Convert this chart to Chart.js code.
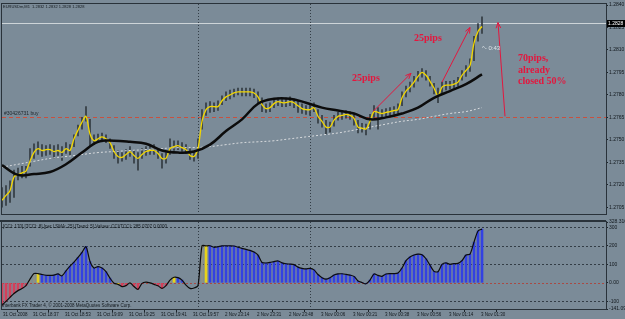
<!DOCTYPE html>
<html>
<head>
<meta charset="utf-8">
<script src="https://cdn.jsdelivr.net/npm/chart.js@4.4.0/dist/chart.umd.min.js"></script>
<style>
  html, body { margin: 0; padding: 0; background: #7b8b98; }
  #wrap { position: relative; width: 625px; height: 319px; overflow: hidden; }
  #priceBox { position: absolute; left: 0; top: 0; width: 625px; height: 218px; }
  #cciBox { position: absolute; left: 0; top: 218px; width: 625px; height: 101px; }
</style>
</head>
<body>
<div id="wrap">
  <div id="priceBox"><canvas id="priceChart" width="625" height="218"></canvas></div>
  <div id="cciBox"><canvas id="cciChart" width="625" height="101"></canvas></div>
</div>
<script>
// EURUSDm M1, 31 Oct 2008 -> 3 Nov 2008
// one sample every 2 bars (bar 0, 2, 4 ... 240)
const SAMPLE = 2;
const closeSmooth = [
  1.27096, 1.27129, 1.27161, 1.27253, 1.27266, 1.27279, 1.27292, 1.27357, 1.27416, 1.27442,
  1.27429, 1.27435, 1.27435, 1.27422, 1.27429, 1.27416, 1.27442, 1.27429, 1.27507, 1.27565,
  1.27618, 1.27657, 1.27539, 1.27494, 1.27507, 1.27520, 1.27507, 1.27481, 1.27422, 1.27389,
  1.27383, 1.27402, 1.27422, 1.27396, 1.27376, 1.27402, 1.27422, 1.27429, 1.27429, 1.27409,
  1.27376, 1.27376, 1.27442, 1.27455, 1.27461, 1.27448, 1.27435, 1.27396, 1.27389, 1.27442,
  1.27624, 1.27702, 1.27722, 1.27722, 1.27722, 1.27761, 1.27787, 1.27800, 1.27813, 1.27820,
  1.27820, 1.27820, 1.27820, 1.27813, 1.27787, 1.27735, 1.27709, 1.27715, 1.27742, 1.27755,
  1.27748, 1.27748, 1.27755, 1.27748, 1.27728, 1.27709, 1.27702, 1.27702, 1.27715, 1.27657,
  1.27624, 1.27585, 1.27585, 1.27631, 1.27657, 1.27663, 1.27670, 1.27663, 1.27644, 1.27585,
  1.27579, 1.27572, 1.27624, 1.27689, 1.27683, 1.27676, 1.27683, 1.27689, 1.27696, 1.27702,
  1.27781, 1.27826, 1.27852, 1.27885, 1.27924, 1.27950, 1.27931, 1.27891, 1.27846, 1.27794,
  1.27852, 1.27865, 1.27865, 1.27872, 1.27885, 1.27931, 1.27963, 1.27996, 1.28146, 1.28224,
  1.28257
];
const barHigh = [
  1.27181, 1.27194, 1.27226, 1.27298, 1.27311, 1.27324, 1.27324, 1.27442, 1.27474, 1.27487,
  1.27468, 1.27461, 1.27468, 1.27461, 1.27468, 1.27455, 1.27481, 1.27468, 1.27533, 1.27598,
  1.27650, 1.27722, 1.27637, 1.27533, 1.27539, 1.27546, 1.27533, 1.27507, 1.27461, 1.27429,
  1.27415, 1.27435, 1.27455, 1.27429, 1.27415, 1.27442, 1.27455, 1.27461, 1.27468, 1.27442,
  1.27409, 1.27415, 1.27507, 1.27494, 1.27494, 1.27481, 1.27468, 1.27442, 1.27422, 1.27507,
  1.27702, 1.27748, 1.27755, 1.27748, 1.27761, 1.27794, 1.27820, 1.27833, 1.27839, 1.27846,
  1.27846, 1.27846, 1.27846, 1.27839, 1.27820, 1.27781, 1.27741, 1.27748, 1.27774, 1.27781,
  1.27774, 1.27781, 1.27787, 1.27774, 1.27761, 1.27741, 1.27728, 1.27735, 1.27748, 1.27702,
  1.27663, 1.27631, 1.27618, 1.27663, 1.27683, 1.27689, 1.27696, 1.27689, 1.27670, 1.27631,
  1.27611, 1.27605, 1.27670, 1.27728, 1.27715, 1.27702, 1.27709, 1.27715, 1.27722, 1.27741,
  1.27820, 1.27859, 1.27885, 1.27924, 1.27957, 1.27976, 1.27963, 1.27924, 1.27878, 1.27846,
  1.27885, 1.27891, 1.27891, 1.27898, 1.27918, 1.27963, 1.27996, 1.28041, 1.28191, 1.28276,
  1.28322
];
const barLow = [
  1.27050, 1.27063, 1.27083, 1.27116, 1.27233, 1.27246, 1.27246, 1.27324, 1.27376, 1.27402,
  1.27389, 1.27396, 1.27402, 1.27376, 1.27396, 1.27363, 1.27409, 1.27396, 1.27455, 1.27526,
  1.27572, 1.27624, 1.27461, 1.27468, 1.27481, 1.27487, 1.27481, 1.27442, 1.27376, 1.27344,
  1.27357, 1.27370, 1.27389, 1.27344, 1.27298, 1.27376, 1.27396, 1.27402, 1.27402, 1.27376,
  1.27311, 1.27344, 1.27402, 1.27429, 1.27435, 1.27422, 1.27409, 1.27370, 1.27357, 1.27376,
  1.27572, 1.27663, 1.27683, 1.27689, 1.27696, 1.27735, 1.27761, 1.27774, 1.27787, 1.27800,
  1.27794, 1.27794, 1.27794, 1.27781, 1.27748, 1.27689, 1.27683, 1.27689, 1.27715, 1.27728,
  1.27722, 1.27722, 1.27728, 1.27715, 1.27683, 1.27676, 1.27670, 1.27663, 1.27689, 1.27611,
  1.27585, 1.27539, 1.27552, 1.27592, 1.27631, 1.27637, 1.27644, 1.27637, 1.27598, 1.27546,
  1.27552, 1.27533, 1.27572, 1.27650, 1.27572, 1.27644, 1.27657, 1.27663, 1.27670, 1.27676,
  1.27728, 1.27787, 1.27820, 1.27852, 1.27891, 1.27918, 1.27898, 1.27859, 1.27807, 1.27748,
  1.27813, 1.27833, 1.27839, 1.27846, 1.27859, 1.27898, 1.27924, 1.27957, 1.28028, 1.28159,
  1.28211
];

// moving averages, one value every 8 bars
const MA_STEP = 8;
const maFast = [
  1.27331, 1.27266, 1.27272, 1.27285, 1.27337, 1.27415, 1.27487, 1.27494, 1.27487, 1.27474,
  1.27429, 1.27415, 1.27422, 1.27468, 1.27559, 1.27637, 1.27741, 1.27774, 1.27774, 1.27748,
  1.27715, 1.27696, 1.27676, 1.27637, 1.27650, 1.27676, 1.27715, 1.27781, 1.27826, 1.27872,
  1.27937
];
const maSlow = [
  1.27318, 1.27337, 1.27357, 1.27376, 1.27389, 1.27402, 1.27415, 1.27422, 1.27429, 1.27435,
  1.27442, 1.27448, 1.27448, 1.27455, 1.27468, 1.27481, 1.27487, 1.27494, 1.27507, 1.27520,
  1.27533, 1.27546, 1.27565, 1.27585, 1.27605, 1.27624, 1.27637, 1.27657, 1.27676, 1.27689,
  1.27715
];

// TCCI sub window, same samples as the price
const cciValues = [
  -121, -100, -78, -57, -42, -31, -15, 20, 50, 50,
  45, 41, 40, 42, 48, 38, 65, 90, 112, 137,
  165, 195, 115, 80, 88, 80, 60, 25, -2, -8,
  -20, -15, 0, -20, -35, -3, 4, 0, -8, -16,
  -30, -15, 15, 30, 28, 15, -12, -30, -28, -15,
  200, 200, 200, 192, 195, 200, 200, 200, 199, 192,
  186, 181, 175, 166, 150, 110, 107, 110, 115, 118,
  108, 103, 101, 98, 85, 78, 75, 78, 70, 45,
  28, 20, 28, 42, 48, 49, 46, 42, 35, 10,
  2, -5, 15, 48, 40, 35, 48, 50, 50, 53,
  80, 120, 140, 150, 155, 152, 130, 95, 62, 60,
  100, 108, 100, 104, 105, 120, 150, 155, 220, 280,
  290
];
// r = down, b = up, g = flat, y = turn, n = none
const cciTrend =
  'rrrrrrrggy' + 'bbbbbbbbbb' + 'bbbbbbbbry' + 'rrgrrrggrr' + 'rrgybbnnnn' +
  'gybbbbbbbb' + 'bbbbbbbbbb' + 'bbbbbbbbbb' + 'bbbbbbbbbb' + 'bbbbbbbbbb' +
  'bbbbbbbbbb' + 'bbbbbbbbbb' + 'b';

const timeTickBars = [0, 15, 31, 47, 63, 79, 95, 111, 127, 143, 159, 175, 191, 207, 223, 239];
const timeLabels = [
  '31 Oct 2008', '31 Oct 18:37', '31 Oct 18:53', '31 Oct 19:09', '31 Oct 19:25', '31 Oct 19:41',
  '31 Oct 19:57', '2 Nov 23:14', '2 Nov 23:31', '2 Nov 23:48', '3 Nov 00:06', '3 Nov 00:21',
  '3 Nov 00:38', '3 Nov 00:56', '3 Nov 01:14', '3 Nov 01:30'
];
const priceTicks = [1.2840, 1.2825, 1.2810, 1.2795, 1.2780, 1.2765, 1.2750, 1.2735, 1.2720, 1.2705];
const cciTicks = [328.3164, 300, 200, 100, 0, -100, -141.0929];
const cciTickLabels = ['328.3164', '300', '200', '100', '0.00', '-100', '-141.0929'];
const cciLevels = [300, 200, 100, -100];
const dayBreaks = [98, 154];
const bidPrice = 1.2828;
const orderPrice = 1.2765;
const orderLabel = '#30426731 buy';
const chartTitle = 'EURUSDm,M1  1.2832 1.2832 1.2828 1.2828';
const cciTitle = '[CCI: 170] [TCCI: 8] [per LSMA: 25] [Trend: 5] Values: CCI/TCCI: 285.0707 0.0000';
const copyright = 'Interbank FX Trader 4, \u00a9 2001-2008 MetaQuotes Software Corp.';

// hand drawn notes: [fromBar, fromPrice, toBar, toPrice]
const noteArrows = [
  [185.5, 1.27689, 204.5, 1.27944],
  [220, 1.27885, 234, 1.28250],
  [251.5, 1.27657, 248, 1.28283]
];
const noteTexts = [
  ['25pips', 175, 1.27911],
  ['25pips', 206, 1.28178],
  ['70pips,', 258, 1.28041],
  ['already', 258, 1.27963],
  ['closed 50%', 258, 1.27891]
];
const timerText = ['^- 0:43', 240, 1.28113];

const trendColors = { r: '#d4405a', b: '#3341e2', g: '#8e9286', y: '#e8d21a', n: 'rgba(0,0,0,0)' };
const frameColor = '#29323a';
const smallFont = '"Liberation Sans", Arial, sans-serif';

function hLine(ctx, a, py) {
  py = Math.round(py) + 0.5;
  ctx.beginPath();
  ctx.moveTo(a.left, py);
  ctx.lineTo(a.right, py);
  ctx.stroke();
}

function vLines(ctx, a, xs) {
  ctx.strokeStyle = '#333d46';
  ctx.setLineDash([1, 2]);
  dayBreaks.forEach(b => {
    const px = Math.round(xs.getPixelForValue(b)) + 0.5;
    ctx.beginPath();
    ctx.moveTo(px, a.top);
    ctx.lineTo(px, a.bottom);
    ctx.stroke();
  });
  ctx.setLineDash([]);
}

const priceDecor = {
  id: 'priceDecor',
  beforeDatasetsDraw(chart) {
    const { ctx, chartArea: a, scales: { x, y } } = chart;
    ctx.save();
    ctx.lineWidth = 1;
    vLines(ctx, a, x);
    ctx.strokeStyle = '#cdd4d8';
    hLine(ctx, a, y.getPixelForValue(bidPrice));
    ctx.strokeStyle = '#c9503e';
    ctx.setLineDash([4, 3]);
    hLine(ctx, a, y.getPixelForValue(orderPrice));
    ctx.setLineDash([]);
    ctx.fillStyle = '#1e262c';
    ctx.font = '5px ' + smallFont;
    ctx.textBaseline = 'bottom';
    ctx.fillText(orderLabel, a.left + 2, y.getPixelForValue(orderPrice) - 1);
    ctx.restore();
  },
  afterDatasetsDraw(chart) {
    const { ctx, scales: { x, y } } = chart;
    ctx.save();
    ctx.strokeStyle = '#e3173e';
    ctx.lineWidth = 1;
    noteArrows.forEach(([b1, p1, b2, p2]) => {
      const x1 = x.getPixelForValue(b1), y1 = y.getPixelForValue(p1);
      const x2 = x.getPixelForValue(b2), y2 = y.getPixelForValue(p2);
      const ang = Math.atan2(y2 - y1, x2 - x1);
      ctx.beginPath();
      ctx.moveTo(x1, y1);
      ctx.lineTo(x2, y2);
      ctx.moveTo(x2 - 6 * Math.cos(ang - 0.4), y2 - 6 * Math.sin(ang - 0.4));
      ctx.lineTo(x2, y2);
      ctx.lineTo(x2 - 6 * Math.cos(ang + 0.4), y2 - 6 * Math.sin(ang + 0.4));
      ctx.stroke();
    });
    ctx.fillStyle = '#e3173e';
    ctx.font = 'bold 10px "Liberation Serif", serif';
    ctx.textBaseline = 'middle';
    noteTexts.forEach(([t, b, p]) => ctx.fillText(t, x.getPixelForValue(b), y.getPixelForValue(p)));
    ctx.fillStyle = '#dde4e8';
    ctx.font = '6px ' + smallFont;
    ctx.fillText(timerText[0], x.getPixelForValue(timerText[1]), y.getPixelForValue(timerText[2]));
    ctx.restore();
  },
  afterDraw(chart) {
    const { ctx, chartArea: a, scales: { y } } = chart;
    ctx.save();
    ctx.strokeStyle = frameColor;
    ctx.lineWidth = 1;
    ctx.strokeRect(a.left - 0.5, a.top - 0.5, a.right - a.left + 1, a.bottom - a.top + 1);
    ctx.fillStyle = '#141a1f';
    ctx.font = '4px ' + smallFont;
    ctx.textBaseline = 'middle';
    ctx.fillText(chartTitle, a.left + 1, a.top + 3);
    const py = Math.round(y.getPixelForValue(bidPrice));
    ctx.fillStyle = '#000';
    ctx.fillRect(a.right + 1, py - 3, 18, 7);
    ctx.fillStyle = '#fff';
    ctx.font = '5px ' + smallFont;
    ctx.fillText(bidPrice.toFixed(4), a.right + 2, py + 0.5);
    ctx.restore();
  }
};

const cciDecor = {
  id: 'cciDecor',
  beforeDatasetsDraw(chart) {
    const { ctx, chartArea: a, scales: { x, y } } = chart;
    ctx.save();
    ctx.lineWidth = 1;
    vLines(ctx, a, x);
    ctx.strokeStyle = '#333d46';
    ctx.setLineDash([2, 2]);
    cciLevels.forEach(v => hLine(ctx, a, y.getPixelForValue(v)));
    ctx.strokeStyle = '#a84a44';
    hLine(ctx, a, y.getPixelForValue(0));
    ctx.restore();
  },
  afterDraw(chart) {
    const { ctx, chartArea: a } = chart;
    ctx.save();
    ctx.strokeStyle = frameColor;
    ctx.lineWidth = 1;
    ctx.strokeRect(a.left - 0.5, a.top - 0.5, a.right - a.left + 1, a.bottom - a.top + 1);
    ctx.lineWidth = 2;
    ctx.beginPath();
    ctx.moveTo(0, a.top - 1);
    ctx.lineTo(a.right, a.top - 1);
    ctx.stroke();
    ctx.fillStyle = '#141a1f';
    ctx.font = '4.5px ' + smallFont;
    ctx.textBaseline = 'middle';
    ctx.fillText(cciTitle, a.left + 1, a.top + 5);
    ctx.fillText(copyright, a.left, a.bottom - 3);
    ctx.restore();
  }
};

const atBars = (arr, step) => arr.map((v, i) => ({ x: i * step, y: v }));

new Chart(document.getElementById('priceChart'), {
  type: 'bar',
  data: {
    datasets: [
      { type: 'line', label: 'MA', data: atBars(maFast, MA_STEP), borderColor: '#0c0c0c',
        borderWidth: 2.5, pointRadius: 0, tension: 0.4, order: 0 },
      { type: 'line', label: 'Close', data: atBars(closeSmooth, SAMPLE), borderColor: '#f2d600',
        borderWidth: 1.3, pointRadius: 0, tension: 0.3, order: 1 },
      { type: 'line', label: 'MA long', data: atBars(maSlow, MA_STEP), borderColor: '#d8dbde',
        borderWidth: 1, borderDash: [2, 2], pointRadius: 0, tension: 0.4, order: 2 },
      { type: 'bar', label: 'Range', data: barHigh.map((h, i) => ({ x: i * SAMPLE, y: [barLow[i], h] })),
        backgroundColor: '#323a40', barThickness: 1, order: 3 }
    ]
  },
  options: {
    responsive: false,
    animation: false,
    devicePixelRatio: 1,
    layout: { padding: { left: 2, top: 2, right: 0, bottom: 1 } },
    plugins: { legend: { display: false }, tooltip: { enabled: false } },
    scales: {
      x: { type: 'linear', min: 0, max: 302, display: false, offset: false },
      y: {
        position: 'right', min: 1.27005, max: 1.28407,
        afterFit(s) { s.width = 19; },
        afterBuildTicks(s) { s.ticks = priceTicks.map(v => ({ value: v })); },
        ticks: { font: { size: 5, family: smallFont }, color: '#12181d', padding: 1, autoSkip: false,
          callback: v => v.toFixed(4) },
        grid: { drawOnChartArea: false, tickLength: 2, color: '#1c242a' },
        border: { color: frameColor }
      }
    }
  },
  plugins: [priceDecor]
});

new Chart(document.getElementById('cciChart'), {
  type: 'bar',
  data: {
    datasets: [
      { type: 'line', label: 'CCI', data: atBars(cciValues, SAMPLE), borderColor: '#0c0c0c',
        borderWidth: 1.2, pointRadius: 0, tension: 0.25, order: 0 },
      { type: 'bar', label: 'TCCI', data: atBars(cciValues, SAMPLE),
        backgroundColor: cciTrend.split('').map(c => trendColors[c]), barThickness: 2, order: 1 }
    ]
  },
  options: {
    responsive: false,
    animation: false,
    devicePixelRatio: 1,
    layout: { padding: { left: 2, top: 1, right: 0, bottom: 0 } },
    plugins: { legend: { display: false }, tooltip: { enabled: false } },
    scales: {
      x: {
        type: 'linear', min: 0, max: 302, offset: false,
        afterFit(s) { s.height = 10; },
        afterBuildTicks(s) { s.ticks = timeTickBars.map(v => ({ value: v })); },
        ticks: { font: { size: 4.5, family: smallFont }, color: '#12181d', padding: 0, autoSkip: false,
          maxRotation: 0, align: 'start', labelOffset: 1, callback: (v, i) => timeLabels[i] },
        grid: { drawOnChartArea: false, tickLength: 3, color: '#1c242a' },
        border: { color: frameColor }
      },
      y: {
        position: 'right', min: -141.0929, max: 328.3164,
        afterFit(s) { s.width = 19; },
        afterBuildTicks(s) { s.ticks = cciTicks.map(v => ({ value: v })); },
        ticks: { font: { size: 5, family: smallFont }, color: '#12181d', padding: 1, autoSkip: false,
          callback: (v, i) => cciTickLabels[i] },
        grid: { drawOnChartArea: false, tickLength: 2, color: '#1c242a' },
        border: { color: frameColor }
      }
    }
  },
  plugins: [cciDecor]
});
</script>
</body>
</html>
